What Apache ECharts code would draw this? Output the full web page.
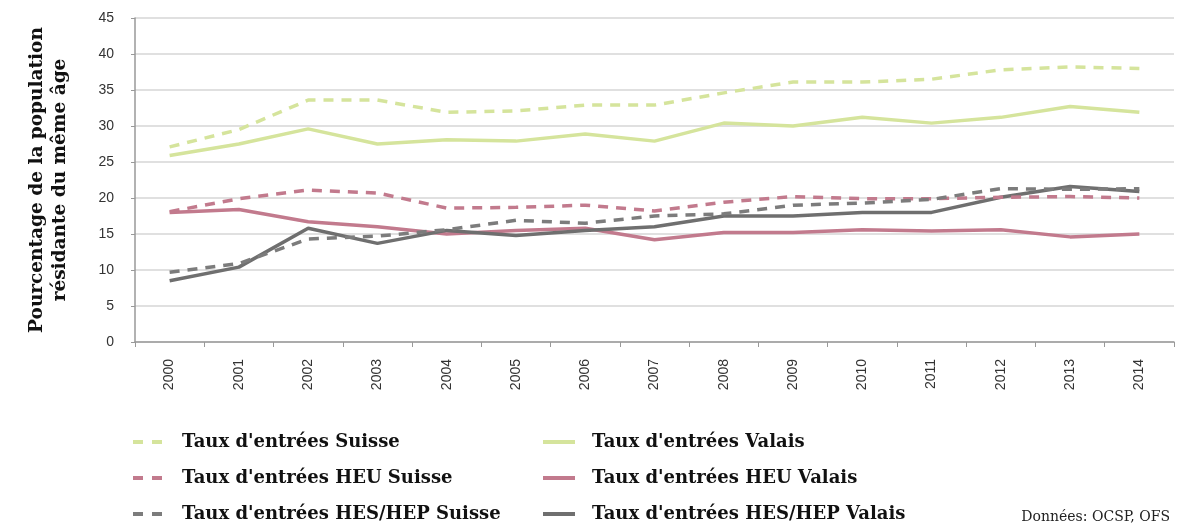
<!DOCTYPE html>
<html>
<head>
<meta charset="utf-8">
<script src="https://cdn.jsdelivr.net/npm/echarts@6/dist/echarts.min.js"></script>
<style>
  html, body { margin: 0; padding: 0; background: #fff; }
  #chart { width: 1198px; height: 528px; }
</style>
</head>
<body>
<div id="chart"></div>
<script>
// années
var years = ['2000','2001','2002','2003','2004','2005','2006','2007','2008','2009','2010','2011','2012','2013','2014'];

// taux d'entrées (en % de la population résidante du même âge)
var tauxSuisse     = [27.1, 29.5, 33.6, 33.6, 31.9, 32.1, 32.9, 32.9, 34.6, 36.1, 36.1, 36.5, 37.8, 38.2, 38.0];
var tauxValais     = [25.9, 27.5, 29.6, 27.5, 28.1, 27.9, 28.9, 27.9, 30.4, 30.0, 31.2, 30.4, 31.2, 32.7, 31.9];
var heuSuisse      = [18.1, 19.9, 21.1, 20.7, 18.6, 18.7, 19.0, 18.2, 19.4, 20.2, 19.9, 19.9, 20.1, 20.2, 20.0];
var heuValais      = [18.0, 18.4, 16.7, 16.0, 15.0, 15.5, 15.8, 14.2, 15.2, 15.2, 15.6, 15.4, 15.6, 14.6, 15.0];
var hesSuisse      = [9.7, 10.9, 14.3, 14.7, 15.6, 16.9, 16.5, 17.5, 17.8, 19.0, 19.3, 19.8, 21.3, 21.2, 21.3];
var hesValais      = [8.5, 10.4, 15.8, 13.7, 15.5, 14.8, 15.5, 16.0, 17.5, 17.5, 18.0, 18.0, 20.1, 21.6, 20.9];

var seriesNames = [
    "Taux d'entrées Suisse", "Taux d'entrées Valais",
    "Taux d'entrées HEU Suisse", "Taux d'entrées HEU Valais",
    "Taux d'entrées HES/HEP Suisse", "Taux d'entrées HES/HEP Valais"
];

var vert = '#d5e49c', rose = '#c27a8d', gris = '#7c7c7c', grisFonce = '#6f6f6f';
var serif = '"DejaVu Serif", "Liberation Serif", serif';
var sans = '"Liberation Sans", Arial, sans-serif';

// icônes de légende : deux tirets pour les séries suisses, un trait plein pour le Valais
var iconTirets = 'path://M0,0h10v4h-10z M19,0h10v4h-10z';
var iconPlein = 'path://M0,0h32v4h-32z';

function legende(nom, left, top, dashed) {
    return {
        data: [nom], left: left, top: top, padding: 0,
        icon: dashed ? iconTirets : iconPlein,
        itemWidth: dashed ? 29 : 32, itemHeight: 4,
        textStyle: { fontFamily: serif, fontWeight: 'bold', fontSize: 18, color: '#111',
                     lineHeight: 20, padding: [0, 0, 0, dashed ? 15 : 12] }
    };
}

function ligne(name, data, color, dashed) {
    return {
        name: name, type: 'line', data: data, symbol: 'none', smooth: false,
        lineStyle: { color: color, width: 3.5, type: dashed ? [10, 8] : 'solid' },
        itemStyle: { color: color },
        z: dashed ? 3 : 2
    };
}

var chart = echarts.init(document.getElementById('chart'));
var option = {
    animation: false,
    backgroundColor: '#fff',
    grid: { left: 135, right: 24, top: 18, bottom: 186 },
    legend: [
        legende(seriesNames[0], 133, 432, true),
        legende(seriesNames[2], 133, 468, true),
        legende(seriesNames[4], 133, 504, true),
        legende(seriesNames[1], 543, 432, false),
        legende(seriesNames[3], 543, 468, false),
        legende(seriesNames[5], 543, 504, false)
    ],
    xAxis: {
        type: 'category', data: years, boundaryGap: true,
        axisLine: { lineStyle: { color: '#999', width: 1.5 } },
        axisTick: { show: true, lineStyle: { color: '#999' }, length: 5 },
        axisLabel: { rotate: 90, fontFamily: sans, fontSize: 14, color: '#333', margin: 17 }
    },
    yAxis: {
        type: 'value', min: 0, max: 45, interval: 5,
        name: 'Pourcentage de la population\nrésidante du même âge',
        nameLocation: 'middle', nameGap: 63, nameRotate: 90,
        nameTextStyle: { fontFamily: serif, fontWeight: 'bold', fontSize: 18.5, color: '#111', lineHeight: 23 },
        axisLine: { show: true, lineStyle: { color: '#999', width: 1.5 } },
        axisTick: { show: true, length: 4, lineStyle: { color: '#999' } },
        axisLabel: { fontFamily: sans, fontSize: 14, color: '#333', margin: 21 },
        splitLine: { lineStyle: { color: '#d6d6d6', width: 1.5 } }
    },
    graphic: [{
        type: 'text', right: 28, top: 510,
        style: { text: 'Données: OCSP, OFS', fontFamily: serif, fontSize: 14, fill: '#222' }
    }],
    series: [
        ligne(seriesNames[0], tauxSuisse, vert, true),
        ligne(seriesNames[1], tauxValais, vert, false),
        ligne(seriesNames[2], heuSuisse, rose, true),
        ligne(seriesNames[3], heuValais, rose, false),
        ligne(seriesNames[4], hesSuisse, gris, true),
        ligne(seriesNames[5], hesValais, grisFonce, false)
    ]
};
chart.setOption(option);
</script>
</body>
</html>
